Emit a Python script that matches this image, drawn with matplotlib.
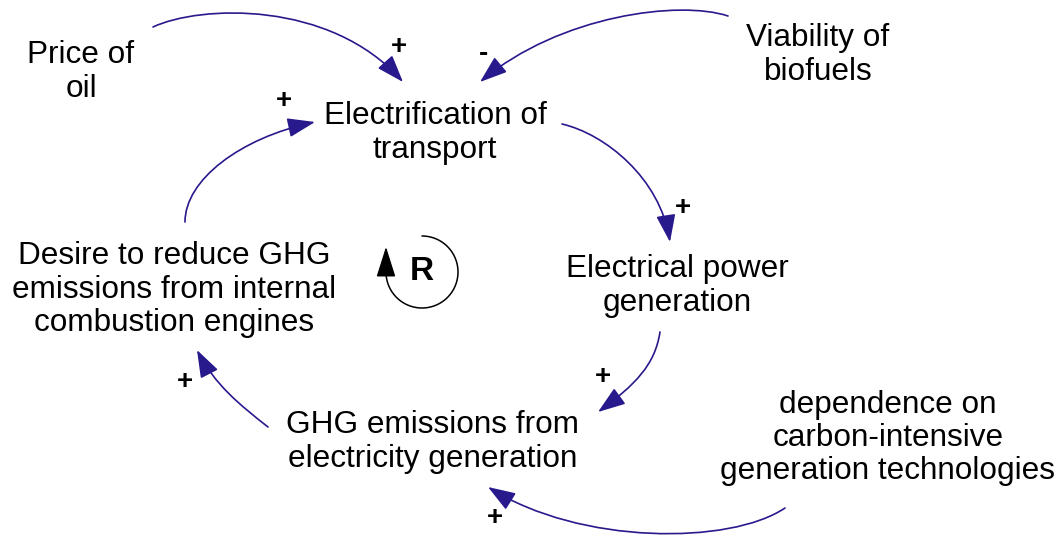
import numpy as np
import matplotlib
matplotlib.use("Agg")
import matplotlib.pyplot as plt
from matplotlib.path import Path
from matplotlib.patches import FancyArrowPatch, ArrowStyle

plt.rcParams['font.family'] = ['Liberation Sans', 'DejaVu Sans']

# ---- node labels (variables of the causal loop diagram) ----
labels = [
    ["Price of", "oil"],
    ["Viability of", "biofuels"],
    ["Electrification of", "transport"],
    ["Desire to reduce GHG", "emissions from internal", "combustion engines"],
    ["Electrical power", "generation"],
    ["GHG emissions from", "electricity generation"],
    ["dependence on", "carbon-intensive", "generation technologies"],
]
label_x = [81, 818, 435, 174, 677, 433, 888]
label_y = [72, 55, 133, 290, 286, 442, 438]

# ---- causal links: cubic bezier (start, ctrl1, ctrl2, end) ----
links = [
    [(153, 27), (200, 5), (330, 0), (403, 82)],
    [(728, 16), (680, 0), (560, 15), (480, 82)],
    [(185, 222), (185, 180), (240, 138), (315, 122)],
    [(562, 124), (605, 134), (660, 178), (670, 242)],
    [(660, 332), (655, 365), (635, 385), (598, 412)],
    [(268, 427), (240, 405), (215, 385), (197, 350)],
    [(785, 508), (730, 545), (580, 545), (488, 487)],
]
polarity = ["+", "-", "+", "+", "+", "+", "+"]
pol_x = [399, 483, 284, 683, 603, 185, 495]
pol_y = [47, 54, 101, 208, 377, 382, 518]

loop_label = "R"
loop_cx, loop_cy, loop_r = 422, 272, 36

LINK_COLOR = "#28198c"

fig = plt.figure(figsize=(10.6, 5.36), dpi=100)
ax = fig.add_axes([0, 0, 1, 1])
ax.set_xlim(0, 1060)
ax.set_ylim(536, 0)
ax.axis("off")

LINE_SP = 33.5
for lines, x, y in zip(labels, label_x, label_y):
    n = len(lines)
    for i, line in enumerate(lines):
        ax.text(x, y + (i - (n - 1) / 2) * LINE_SP, line, ha="center", va="center",
                fontsize=22.7, color="black")

style = ArrowStyle("-|>", head_length=1.7, head_width=0.6)
for pts in links:
    path = Path(pts, [Path.MOVETO, Path.CURVE4, Path.CURVE4, Path.CURVE4])
    ax.add_patch(FancyArrowPatch(path=path, arrowstyle=style, mutation_scale=10,
                                 color=LINK_COLOR, lw=1.2, shrinkA=0, shrinkB=0))

for s, x, y in zip(polarity, pol_x, pol_y):
    ax.text(x, y, s, ha="center", va="center", fontsize=20, fontweight="bold", color="black")

# reinforcing loop symbol
theta = np.linspace(np.pi / 2, -np.pi, 80)
ax_pts = list(zip(loop_cx + loop_r * np.cos(theta), loop_cy - loop_r * np.sin(theta)))
ax_pts.append((loop_cx - loop_r, loop_cy - loop_r * 0.7))
lpath = Path(ax_pts)
ax.add_patch(FancyArrowPatch(path=lpath, arrowstyle=ArrowStyle("-|>", head_length=1.9, head_width=0.6),
                             mutation_scale=10, color="black", lw=1.1, shrinkA=0, shrinkB=0))
ax.text(loop_cx, loop_cy, loop_label, ha="center", va="center", fontsize=24, fontweight="bold")

fig.savefig("out.png", dpi=100)
